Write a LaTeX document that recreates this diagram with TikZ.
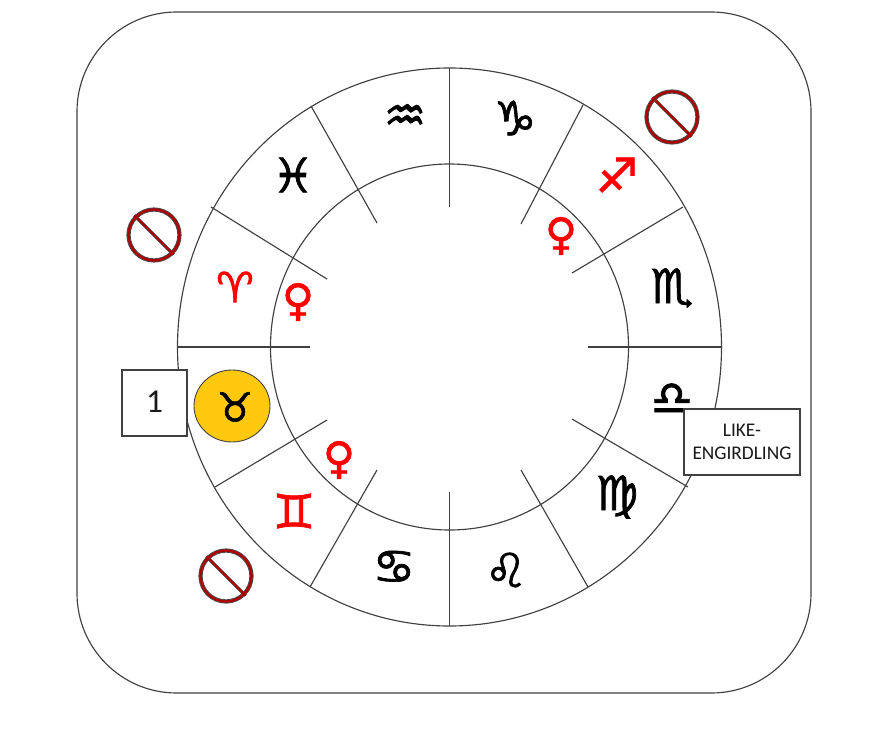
\documentclass[tikz,border=0pt]{standalone}
\usepackage{fontspec}
\setmainfont{Carlito}
\newfontfamily\signfont[FakeBold=1.5]{DejaVu Sans}
\definecolor{wheelgray}{HTML}{404040}
\definecolor{taurusgold}{HTML}{FFC90E}
\definecolor{barred}{HTML}{B00000}
\tikzset{
    wheelline/.style={draw=wheelgray, line width=0.65pt},
    sign/.style={font=\signfont\fontsize{27}{27}\selectfont, inner sep=0pt},
    venus/.style={sign, font=\signfont\fontsize{25}{25}\selectfont, text=red},
    labelbox/.style={draw=wheelgray, line width=0.7pt, fill=white, inner sep=0pt, align=center, text=black!90},
    nosign/.style={circle, draw=black!70, line width=2.4pt, minimum size=29pt, inner sep=0pt},
}
\begin{document}
\begin{tikzpicture}[x=0.02cm, y=-0.02cm]
    \useasboundingbox (0,0) rectangle (895,733);
    % Rounded frame
    \draw[wheelline, rounded corners=56.7pt] (77,12) rectangle (811,693);

    % The two rings
    \draw[wheelline] (449.5,347) ellipse [x radius=272, y radius=279];
    \draw[wheelline] (449.5,347) ellipse [x radius=179, y radius=183];
    % Spokes
    \foreach \xa/\ya/\xb/\yb in {722/347/588/347, 683/207/572/273, 583/105/521/224,
        449.5/68/449.5/207, 311/106/377/223, 211/207/327/279, 177/347/310/347,
        215/487/327/420, 310/587/377/470, 449.5/626/449.5/492, 588/587/521/470, 688/487/572/419}
        \draw[wheelline] (\xa,\ya) -- (\xb,\yb);

    % Highlighted sign
    \filldraw[fill=taurusgold, draw=wheelgray, line width=0.5pt] (232,406) ellipse [x radius=38, y radius=36];

    % Signs of the zodiac
    \node[sign] (aquarius) at (405,118) {♒};
    \node[sign] (capricorn) at (515,118) {♑};
    \node[sign, text=red] (sagittarius) at (617,175) {♐};
    \node[sign] (scorpio) at (672,288) {♏};
    \node[sign] (libra) at (672,399) {♎};
    \node[sign] (virgo) at (617,497) {♍};
    \node[sign] (leo) at (506,570) {♌};
    \node[sign] (cancer) at (394,567) {♋};
    \node[sign, text=red] (gemini) at (294,511) {♊};
    \node[sign, font=\signfont\fontsize{23}{23}\selectfont] (taurus) at (235,407) {♉};
    \node[sign, text=red, font=\signfont\fontsize{24}{24}\selectfont] (aries) at (235,287) {♈};
    \node[sign] (pisces) at (293,175) {♓};

    % Venus marks
    \node[venus] (venus1) at (561,236) {♀};
    \node[venus] (venus2) at (298,302) {♀};
    \node[venus] (venus3) at (339,460) {♀};

    % Barred circles
    \foreach \n/\x/\y in {a/672/117, b/154/235, c/226/576} {
        \node[nosign] (no\n) at (\x,\y) {};
        \draw[black!70, line width=1.9pt] (no\n.135) -- (no\n.-45);
        \draw[barred, line width=1.1pt] (no\n.135) -- (no\n.-45);
        \draw[barred, line width=1.3pt] (no\n) circle (25.5);
    }

    % Label boxes
    \node[labelbox, minimum width=37pt, minimum height=37.5pt, font=\fontsize{19}{19}\selectfont] (one) at (154.5,403) {\raisebox{1.5pt}{1}};
    \node[labelbox, minimum width=66pt, minimum height=37.5pt, font=\fontsize{11}{13.5}\selectfont] (like) at (742,442) {LIKE-\\ENGIRDLING};
\end{tikzpicture}
\end{document}
